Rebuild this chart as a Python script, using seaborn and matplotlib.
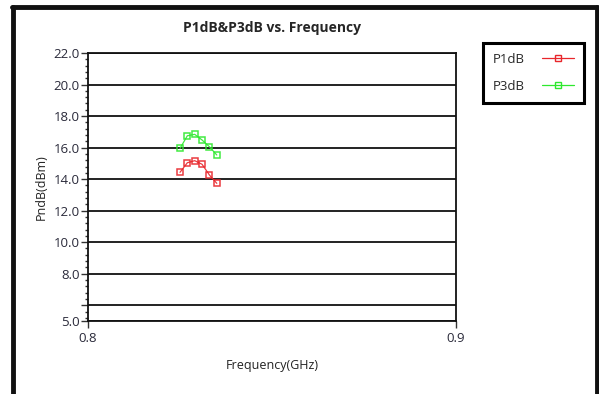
import matplotlib
matplotlib.use("Agg")
import matplotlib.pyplot as plt
import seaborn as sns
import pandas as pd
import numpy as np
from matplotlib.ticker import MultipleLocator, FixedLocator, FixedFormatter
from matplotlib.lines import Line2D

freq = [0.825, 0.827, 0.829, 0.831, 0.833, 0.835]
p1db = [14.43, 15.04, 15.17, 14.94, 14.26, 13.73]
p3db = [15.95, 16.75, 16.84, 16.48, 16.05, 15.53]
series_names = ["P1dB", "P3dB"]
colors = {"P1dB": "#e8262b", "P3dB": "#2ee82e"}
ytick_vals = [5, 6, 8, 10, 12, 14, 16, 18, 20, 22]
ytick_labels = ["5.0", "", "8.0", "10.0", "12.0", "14.0", "16.0", "18.0", "20.0", "22.0"]
xtick_vals = [0.8, 0.9]
xtick_labels = ["0.8", "0.9"]

df = pd.DataFrame({
    "freq": freq * 2,
    "val": p1db + p3db,
    "series": [series_names[0]] * len(freq) + [series_names[1]] * len(freq),
})

sns.set_style("white")
plt.rcParams["font.family"] = ["Open Sans", "DejaVu Sans"]

fig = plt.figure(figsize=(5.99, 3.94), dpi=100)
ax = fig.add_axes([88 / 599, 1 - 321 / 394, (456 - 88) / 599, (321 - 53) / 394])

sns.lineplot(data=df, x="freq", y="val", hue="series", palette=colors, ax=ax,
             marker="s", markersize=4.5, markerfacecolor="none", markeredgewidth=1.1,
             linewidth=0.9, legend=False)
for line in ax.get_lines():
    c = line.get_color()
    line.set_markeredgecolor(c)
    line.set_alpha(0.9)

ax.set_xlim(0.8, 0.9)
ax.set_ylim(5, 22)
ax.yaxis.set_major_locator(FixedLocator(ytick_vals))
ax.yaxis.set_major_formatter(FixedFormatter(ytick_labels))
ax.yaxis.set_minor_locator(MultipleLocator(0.4))
ax.xaxis.set_major_locator(FixedLocator(xtick_vals))
ax.xaxis.set_major_formatter(FixedFormatter(xtick_labels))
ax.yaxis.grid(True, which="major", color="#222222", linewidth=1.4)
ax.xaxis.grid(False)
ax.tick_params(axis="y", which="major", direction="out", length=5, width=1, color="#333333",
               labelsize=9.5, labelcolor="#2a2a3a", pad=1, left=True)
ax.tick_params(axis="y", which="minor", direction="out", length=2.5, width=1, color="#333333", left=True)
ax.tick_params(axis="x", which="major", direction="out", length=5, width=1, color="#333333",
               labelsize=9.5, labelcolor="#2a2a3a", pad=3, bottom=True)
for s in ax.spines.values():
    s.set_visible(True)
    s.set_color("#111111")
    s.set_linewidth(1.3)

ax.set_xlabel("Frequency(GHz)", fontsize=9, color="#222222", labelpad=10)
ax.set_ylabel("PndB(dBm)", fontsize=9, color="#222222", labelpad=4)
ax.set_title("P1dB&P3dB vs. Frequency", fontsize=10, fontweight="bold", pad=15)

# outer frame
fig.add_artist(Line2D([13 / 599, 13 / 599], [0, 1 - 7 / 394], transform=fig.transFigure, color="#111111", lw=3.5))
fig.add_artist(Line2D([12 / 599, 597 / 599], [1 - 7 / 394, 1 - 7 / 394], transform=fig.transFigure, color="#111111", lw=3.5))
fig.add_artist(Line2D([597 / 599, 597 / 599], [0, 1 - 7 / 394], transform=fig.transFigure, color="#111111", lw=3.5))

# legend
handles = [Line2D([], [], color=colors[n], marker="s", markersize=4, markerfacecolor="none",
                  markeredgecolor=colors[n], lw=0.9) for n in series_names]
leg = fig.legend(handles, series_names, loc="upper left", bbox_to_anchor=(483 / 599, 1 - 43 / 394),
                 markerfirst=False, frameon=True, fancybox=False, fontsize=9.5, framealpha=1,
                 handlelength=2.4, labelspacing=1.05, borderpad=0.75, handletextpad=1.3,
                 borderaxespad=0)
leg.get_frame().set_edgecolor("#000000")
leg.get_frame().set_linewidth(2.2)

fig.savefig("out.png", dpi=100)
